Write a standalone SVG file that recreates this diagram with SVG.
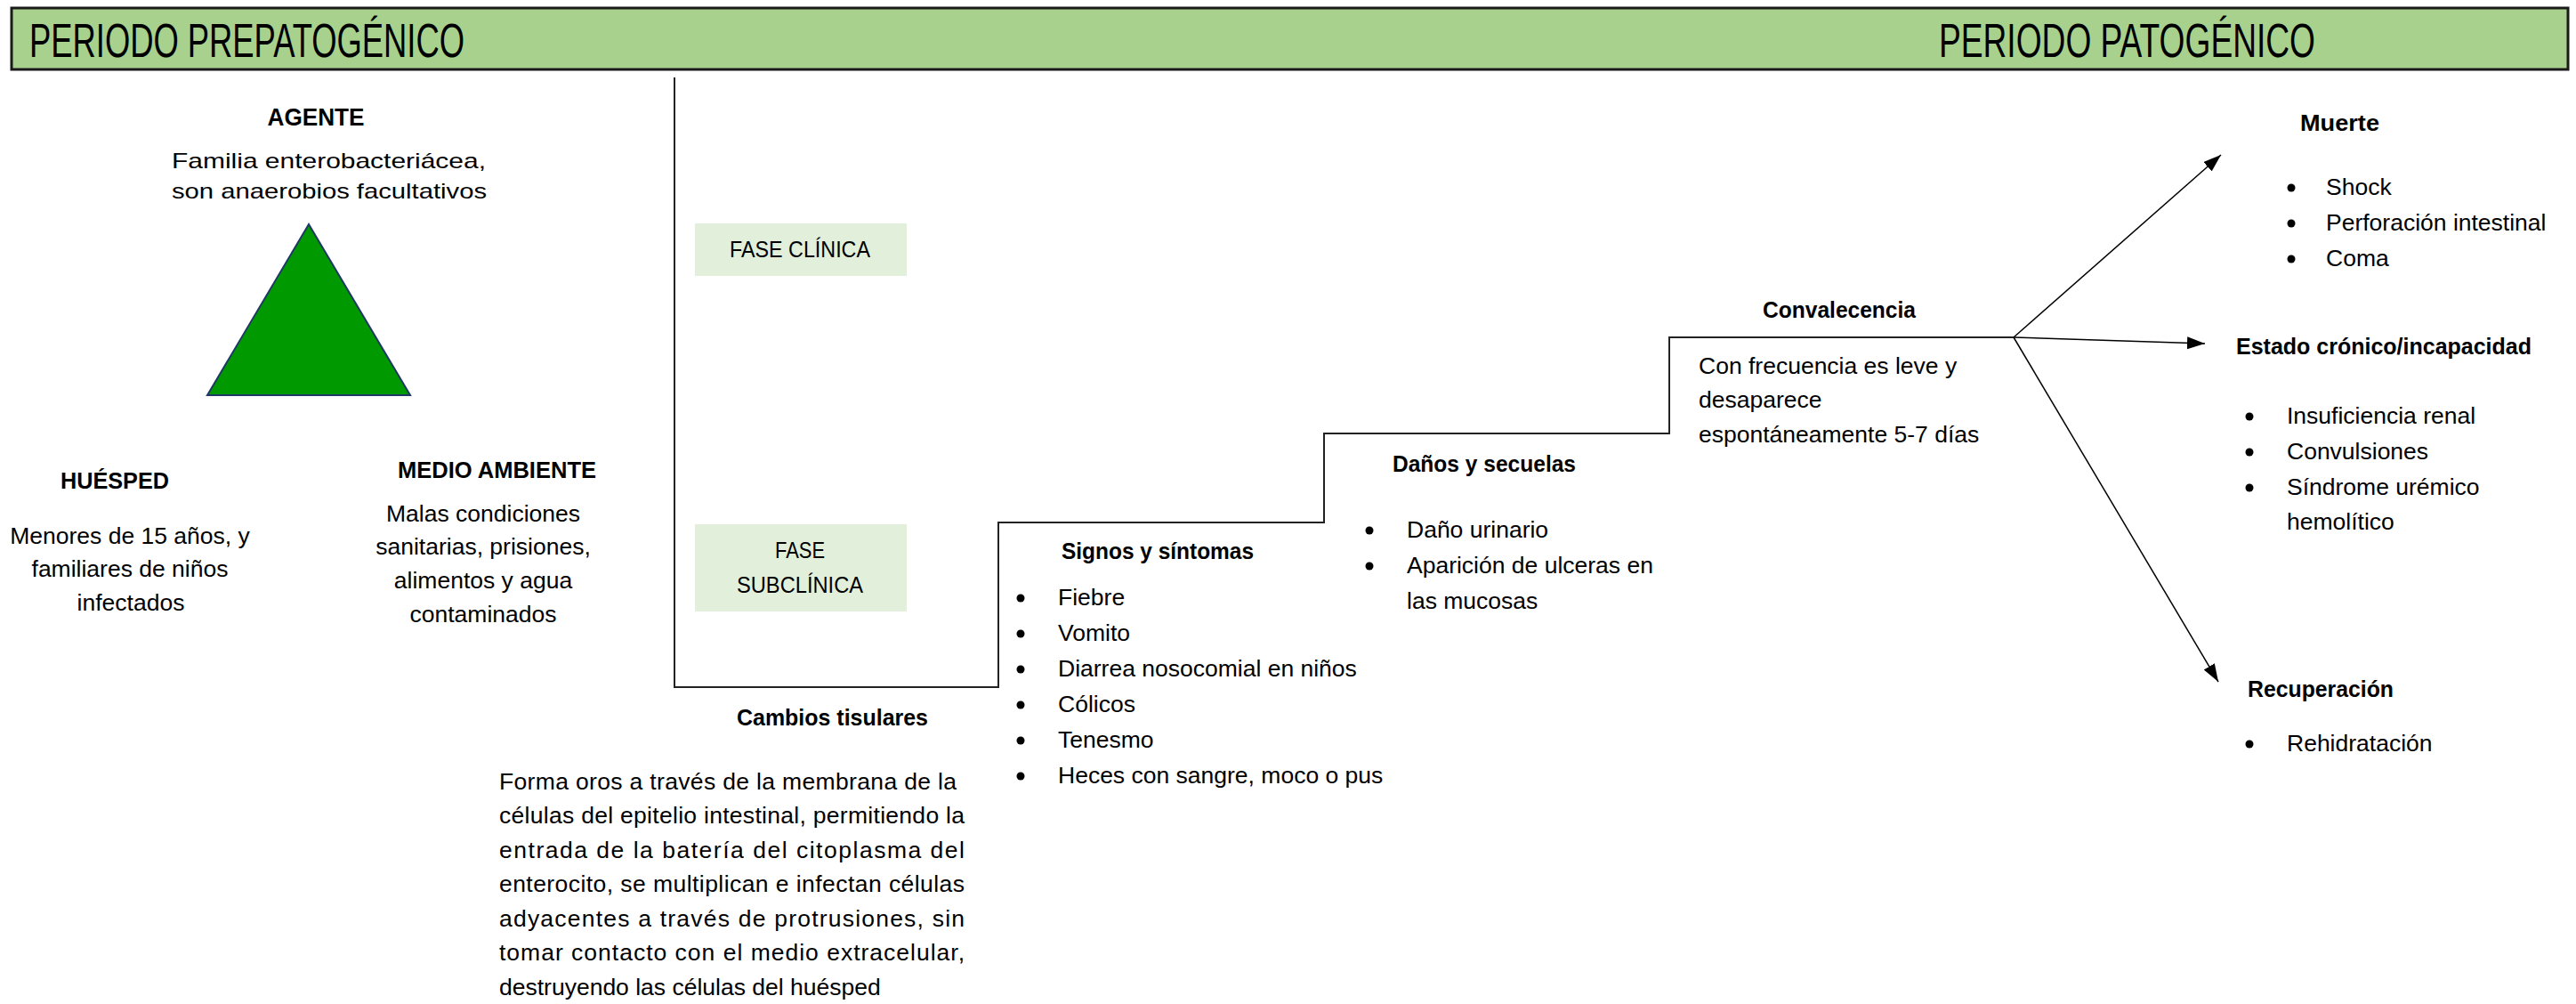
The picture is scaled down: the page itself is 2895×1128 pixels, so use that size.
<svg xmlns="http://www.w3.org/2000/svg" width="2895" height="1128" viewBox="0 0 2895 1128">
<defs>
<marker id="arr" markerUnits="userSpaceOnUse" markerWidth="22" markerHeight="16" refX="20" refY="7" orient="auto">
<path d="M0,0 L20,7 L0,14 Z" fill="#000"/>
</marker>
</defs>
<style>
text{font-family:"Liberation Sans",Arial,sans-serif;fill:#000}
.t{font-size:26.5px}
.b{font-size:26.5px;font-weight:bold}
.h{font-size:53px}
.g{font-size:24px}
.m{text-anchor:middle}
.bar{fill:#A9D18E;stroke:#1a1a1a;stroke-width:3}
.fase{fill:#E2EFDA}
.step{fill:none;stroke:#222;stroke-width:2}
.arrow{fill:none;stroke:#000;stroke-width:1.5;marker-end:url(#arr)}
.dot{fill:#000}
</style>
<rect width="2895" height="1128" fill="#fff"/>

<g id="header">
<rect class="bar" x="13" y="9" width="2873" height="69"/>
<text class="h" x="33" y="64" textLength="489" lengthAdjust="spacingAndGlyphs">PERIODO PREPATOGÉNICO</text>
<text class="h" x="2179" y="64" textLength="423" lengthAdjust="spacingAndGlyphs">PERIODO PATOGÉNICO</text>
</g>

<g id="agente">
<text class="b m" x="355" y="141" style="font-size:27px" textLength="109" lengthAdjust="spacingAndGlyphs">AGENTE</text>
<text class="g" x="193" y="189" textLength="353" lengthAdjust="spacingAndGlyphs">Familia enterobacteriácea,</text>
<text class="g" x="193" y="223" textLength="354" lengthAdjust="spacingAndGlyphs">son anaerobios facultativos</text>
<polygon points="347,252 233,444 461,444" fill="#009900" stroke="#1F3864" stroke-width="2"/>
</g>

<g id="huesped">
<text class="b" x="68" y="549" textLength="122" lengthAdjust="spacingAndGlyphs">HUÉSPED</text>
<text class="t m" x="146" y="611">Menores de 15 años, y</text>
<text class="t m" x="146" y="648">familiares de niños</text>
<text class="t m" x="147" y="686">infectados</text>
</g>

<g id="medio-ambiente">
<text class="b" x="447" y="537" textLength="223" lengthAdjust="spacingAndGlyphs">MEDIO AMBIENTE</text>
<text class="t m" x="543" y="586">Malas condiciones</text>
<text class="t m" x="543" y="623">sanitarias, prisiones,</text>
<text class="t m" x="543" y="661">alimentos y agua</text>
<text class="t m" x="543" y="699">contaminados</text>
</g>

<g id="fase-clinica">
<rect class="fase" x="781" y="251" width="238" height="59"/>
<text class="t" x="820" y="289" textLength="158" lengthAdjust="spacingAndGlyphs">FASE CLÍNICA</text>
</g>

<g id="fase-subclinica">
<rect class="fase" x="781" y="589" width="238" height="98"/>
<text class="t" x="871" y="627" textLength="56" lengthAdjust="spacingAndGlyphs">FASE</text>
<text class="t" x="828" y="666" textLength="142" lengthAdjust="spacingAndGlyphs">SUBCLÍNICA</text>
</g>

<g id="connectors">
<polyline class="step" points="758,87 758,772 1122,772 1122,587 1488,587 1488,487 1876,487 1876,379 2263,379"/>
<path class="arrow" d="M2263,379 L2496,174"/>
<path class="arrow" d="M2263,379 L2478,386"/>
<path class="arrow" d="M2263,379 L2493,766"/>
</g>

<g id="cambios-tisulares">
<text class="b" x="828" y="815" textLength="215" lengthAdjust="spacingAndGlyphs">Cambios tisulares</text>
<text class="t" x="561" y="887" textLength="514">Forma oros a través de la membrana de la</text>
<text class="t" x="561" y="925" textLength="523">células del epitelio intestinal, permitiendo la</text>
<text class="t" x="561" y="964" textLength="523">entrada de la batería del citoplasma del</text>
<text class="t" x="561" y="1002" textLength="523">enterocito, se multiplican e infectan células</text>
<text class="t" x="561" y="1041" textLength="523">adyacentes a través de protrusiones, sin</text>
<text class="t" x="561" y="1079" textLength="523">tomar contacto con el medio extracelular,</text>
<text class="t" x="561" y="1118">destruyendo las células del huésped</text>
</g>

<g id="signos-sintomas">
<text class="b" x="1193" y="628" textLength="216" lengthAdjust="spacingAndGlyphs">Signos y síntomas</text>
<circle class="dot" cx="1147" cy="672" r="4.5"/>
<text class="t" x="1189" y="680">Fiebre</text>
<circle class="dot" cx="1147" cy="712" r="4.5"/>
<text class="t" x="1189" y="720">Vomito</text>
<circle class="dot" cx="1147" cy="752" r="4.5"/>
<text class="t" x="1189" y="760">Diarrea nosocomial en niños</text>
<circle class="dot" cx="1147" cy="792" r="4.5"/>
<text class="t" x="1189" y="800">Cólicos</text>
<circle class="dot" cx="1147" cy="832" r="4.5"/>
<text class="t" x="1189" y="840">Tenesmo</text>
<circle class="dot" cx="1147" cy="872" r="4.5"/>
<text class="t" x="1189" y="880">Heces con sangre, moco o pus</text>
</g>

<g id="danos-secuelas">
<text class="b" x="1565" y="530" textLength="206" lengthAdjust="spacingAndGlyphs">Daños y secuelas</text>
<circle class="dot" cx="1539" cy="596" r="4.5"/>
<text class="t" x="1581" y="604">Daño urinario</text>
<circle class="dot" cx="1539" cy="636" r="4.5"/>
<text class="t" x="1581" y="644">Aparición de ulceras en</text>
<text class="t" x="1581" y="684">las mucosas</text>
</g>

<g id="convalecencia">
<text class="b" x="1981" y="357" textLength="172" lengthAdjust="spacingAndGlyphs">Convalecencia</text>
<text class="t" x="1909" y="420">Con frecuencia es leve y</text>
<text class="t" x="1909" y="458">desaparece</text>
<text class="t" x="1909" y="497">espontáneamente 5-7 días</text>
</g>

<g id="muerte">
<text class="b" x="2585" y="147" textLength="89" lengthAdjust="spacingAndGlyphs">Muerte</text>
<circle class="dot" cx="2575" cy="211" r="4.5"/>
<text class="t" x="2614" y="219">Shock</text>
<circle class="dot" cx="2575" cy="251" r="4.5"/>
<text class="t" x="2614" y="259">Perforación intestinal</text>
<circle class="dot" cx="2575" cy="291" r="4.5"/>
<text class="t" x="2614" y="299">Coma</text>
</g>

<g id="estado-cronico">
<text class="b" x="2513" y="398" textLength="332" lengthAdjust="spacingAndGlyphs">Estado crónico/incapacidad</text>
<circle class="dot" cx="2528" cy="468" r="4.5"/>
<text class="t" x="2570" y="476">Insuficiencia renal</text>
<circle class="dot" cx="2528" cy="508" r="4.5"/>
<text class="t" x="2570" y="516">Convulsiones</text>
<circle class="dot" cx="2528" cy="548" r="4.5"/>
<text class="t" x="2570" y="556">Síndrome urémico</text>
<text class="t" x="2570" y="595">hemolítico</text>
</g>

<g id="recuperacion">
<text class="b" x="2526" y="783" textLength="164" lengthAdjust="spacingAndGlyphs">Recuperación</text>
<circle class="dot" cx="2528" cy="836" r="4.5"/>
<text class="t" x="2570" y="844">Rehidratación</text>
</g>
</svg>
